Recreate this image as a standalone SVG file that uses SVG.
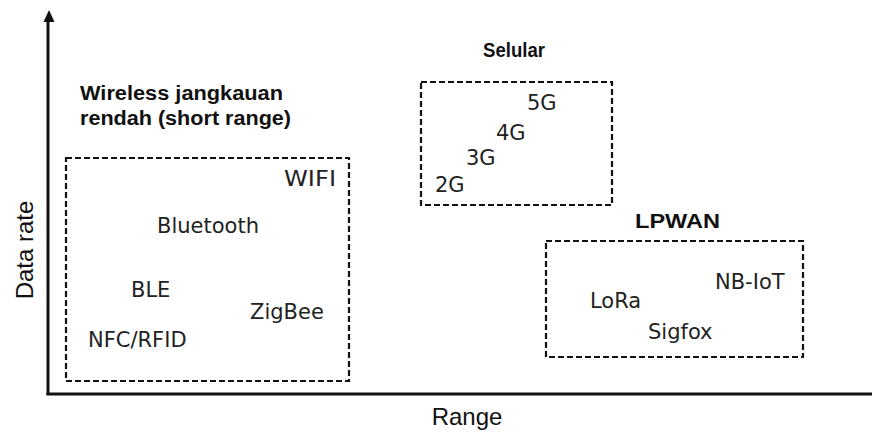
<svg xmlns="http://www.w3.org/2000/svg" width="872" height="437" viewBox="0 0 872 437">
<style>
.box{fill:none;stroke:#111;stroke-width:2.2;stroke-dasharray:6 3}
.t{font-family:"DejaVu Sans",Verdana,sans-serif;font-size:21px;fill:#222}
.h{font-family:"Liberation Sans",Arial,sans-serif;font-weight:bold;font-size:20px;fill:#111}
.ax{font-family:"Liberation Sans",Arial,sans-serif;font-size:24px;fill:#111}
</style>
<rect width="872" height="437" fill="#fff"/>
<g id="axes">
<line x1="48" y1="395" x2="48" y2="18" stroke="#111" stroke-width="3"/>
<polygon points="49,10 43.5,22 54.5,22" fill="#111"/>
<line x1="46.5" y1="394" x2="872" y2="394" stroke="#111" stroke-width="3"/>
<text class="ax" transform="translate(33,250) rotate(-90)" text-anchor="middle">Data rate</text>
<text class="ax" x="467" y="425" text-anchor="middle">Range</text>
</g>
<g id="short-range">
<text class="h" x="80" y="100" textLength="203" lengthAdjust="spacingAndGlyphs">Wireless jangkauan</text>
<text class="h" x="80" y="125" textLength="211" lengthAdjust="spacingAndGlyphs">rendah (short range)</text>
<rect class="box" x="66" y="158" width="283" height="223"/>
<text class="t" x="284" y="186" textLength="52" lengthAdjust="spacingAndGlyphs">WIFI</text>
<text class="t" x="157" y="233">Bluetooth</text>
<text class="t" x="131" y="297">BLE</text>
<text class="t" x="250" y="319">ZigBee</text>
<text class="t" x="88" y="347">NFC/RFID</text>
</g>
<g id="selular">
<text class="h" x="483" y="57" textLength="62" lengthAdjust="spacingAndGlyphs">Selular</text>
<rect class="box" x="421" y="82" width="191" height="123"/>
<text class="t" x="527" y="110">5G</text>
<text class="t" x="496" y="140">4G</text>
<text class="t" x="466" y="165">3G</text>
<text class="t" x="435" y="192">2G</text>
</g>
<g id="lpwan">
<text class="h" x="635" y="228" style="font-size:21px" textLength="85" lengthAdjust="spacingAndGlyphs">LPWAN</text>
<rect class="box" x="546" y="241" width="257" height="116"/>
<text class="t" x="715" y="289">NB-IoT</text>
<text class="t" x="590" y="308">LoRa</text>
<text class="t" x="648" y="339">Sigfox</text>
</g>
<g id="connectors"></g>
</svg>
